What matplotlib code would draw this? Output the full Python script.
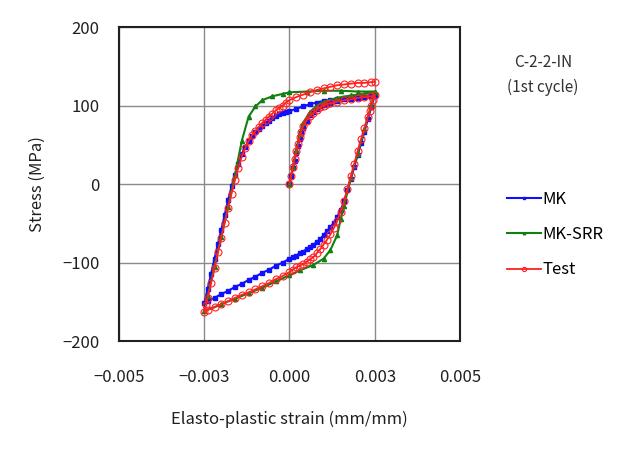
import matplotlib
matplotlib.use("Agg")
from matplotlib import pyplot as plt

plt.rcParams['font.family'] = ['Noto Sans CJK JP', 'DejaVu Sans']

# MK model (blue): initial loading, unloading, reloading
mk_x = [0, 0.00005, 0.0001, 0.00015, 0.0002, 0.00025, 0.0003, 0.00035, 0.0004, 0.0005, 0.0006, 0.0007,
        0.0008, 0.0009, 0.001, 0.0011, 0.0012, 0.0014, 0.0016, 0.0018, 0.002, 0.0022, 0.0024, 0.0025,
        0.0024, 0.0023, 0.0022, 0.0021, 0.002, 0.0019, 0.0018, 0.0017, 0.0016, 0.0015, 0.0014, 0.0013,
        0.0012, 0.0011, 0.001, 0.0009, 0.0008, 0.0007, 0.0006, 0.0005, 0.0004, 0.0003, 0.0002, 0.0001,
        0, -0.0002, -0.0004, -0.0006, -0.0008, -0.001, -0.0012, -0.0014, -0.0016, -0.0018, -0.002,
        -0.0022, -0.0024, -0.0025,
        -0.0024, -0.0023, -0.0022, -0.0021, -0.002, -0.0019, -0.0018, -0.0017, -0.0016, -0.0015,
        -0.0014, -0.0013, -0.0012, -0.0011, -0.001, -0.0009, -0.0008, -0.0007, -0.0006, -0.0005,
        -0.0004, -0.0003, -0.0002, -0.0001, 0, 0.0002, 0.0004, 0.0006, 0.0008, 0.001, 0.0012, 0.0014,
        0.0016, 0.0018, 0.002, 0.0022, 0.0024, 0.0025]
mk_y = [0, 10, 20, 30, 40, 49, 58, 65, 72, 81, 88, 92,
        96, 99, 101, 103, 104, 106, 108, 109, 110, 111, 112, 113,
        98, 83, 67, 52, 37, 22, 7, -8, -22, -33, -42, -49,
        -55, -60, -65, -70, -74, -77, -80, -83, -86, -88, -91, -93,
        -95, -100, -104, -109, -113, -118, -122, -127, -131, -136, -140,
        -145, -149, -152,
        -133, -114, -95, -76, -58, -39, -20, -3, 12, 26,
        38, 47, 55, 61, 66, 70, 74, 78, 81, 84,
        87, 89, 91, 92, 93, 96, 99, 102, 104, 106, 107, 109,
        110, 111, 112, 112, 113, 113]

# MK-SRR model (green)
srr_x = [0, 0.0001, 0.0002, 0.0003, 0.0004, 0.0006, 0.0008, 0.001, 0.0014, 0.0018, 0.0022, 0.0025,
         0.0024, 0.0022, 0.002, 0.0018, 0.0016, 0.0015, 0.0014, 0.0012, 0.001, 0.0007, 0.0003, 0,
         -0.0004, -0.0008, -0.0012, -0.0016, -0.002, -0.0025,
         -0.0024, -0.0022, -0.002, -0.0018, -0.0016, -0.0014, -0.0012, -0.001, -0.0008, -0.0005,
         -0.0002, 0, 0.0005, 0.001, 0.0015, 0.002, 0.0025]
srr_y = [0, 22, 44, 64, 78, 92, 100, 105, 110, 113, 115, 117,
         101, 70, 39, 8, -28, -45, -65, -84, -95, -103, -110, -116,
         -124, -132, -139, -146, -153, -162,
         -143, -105, -67, -29, 12, 55, 86, 99, 107, 112,
         115, 117, 118, 119, 119, 118, 118]

# test result (red)
test_x = [0, 0.00005, 0.0001, 0.00015, 0.0002, 0.00025, 0.0003, 0.00035, 0.0004, 0.0005, 0.0006, 0.0007,
          0.0008, 0.0009, 0.001, 0.0011, 0.0012, 0.0014, 0.0016, 0.0018, 0.002, 0.0022, 0.0024, 0.0025,
          0.00245, 0.0024, 0.00235, 0.0023, 0.0022, 0.0021, 0.002, 0.0019, 0.0018, 0.0017, 0.0016,
          0.0015, 0.0014, 0.0013, 0.0012, 0.0011, 0.001, 0.0009, 0.0008, 0.0007, 0.0006, 0.0005,
          0.0004, 0.0003, 0.0002, 0.0001, 0, -0.0002, -0.0004, -0.0006, -0.0008, -0.001, -0.0012,
          -0.0014, -0.0016, -0.0018, -0.002, -0.0022, -0.0024, -0.0025,
          -0.00245, -0.0024, -0.0023, -0.0022, -0.0021, -0.002, -0.0019, -0.0018, -0.0017, -0.0016,
          -0.0015, -0.0014, -0.0013, -0.0012, -0.0011, -0.001, -0.0009, -0.0008, -0.0007, -0.0006,
          -0.0005, -0.0004, -0.0003, -0.0002, -0.0001, 0, 0.0002, 0.0004, 0.0006, 0.0008, 0.001,
          0.0012, 0.0014, 0.0016, 0.0018, 0.002, 0.0022, 0.0024, 0.0025]
test_y = [0, 11, 22, 32, 42, 51, 60, 67, 74, 81, 87, 91,
          95, 98, 100, 102, 103, 105, 107, 108, 110, 111, 112, 113,
          107, 100, 93, 86, 72, 57, 42, 26, 10, -6, -22,
          -35, -47, -56, -64, -71, -77, -83, -88, -93, -96, -99,
          -102, -104, -106, -109, -112, -117, -121, -126, -130, -134, -138,
          -141, -145, -149, -153, -157, -160, -163,
          -154, -145, -126, -107, -87, -68, -49, -30, -12, 5,
          21, 35, 46, 55, 62, 68, 73, 78, 82, 86,
          90, 94, 97, 100, 104, 107, 111, 114, 117, 120, 122,
          124, 126, 127, 128, 129, 129, 130, 130]

x_ticks = [-0.005, -0.0025, 0, 0.0025, 0.005]
x_tick_labels = ['\u22120.005', '\u22120.003', '0.000', '0.003', '0.005']
y_ticks = [-200, -100, 0, 100, 200]
y_tick_labels = ['\u2212200', '\u2212100', '0', '100', '200']

fig = plt.figure(figsize=(6.3, 4.53), dpi=100)
ax = fig.add_axes([0.189, 0.247, 0.541, 0.693])

ax.plot(mk_x, mk_y, '-', color='#1010ff', lw=1.5, marker='s', ms=3, label='MK', zorder=3)
ax.plot(srr_x, srr_y, '-', color='#108010', lw=1.5, marker='^', ms=3, label='MK-SRR', zorder=4)
ax.plot(test_x, test_y, '-', color='#ff2020', lw=1.3, marker='o', ms=5, mfc='none',
        mew=0.8, label='Test', zorder=5)

ax.set_xlim(-0.005, 0.005)
ax.set_ylim(-200, 200)
ax.set_xticks(x_ticks)
ax.set_xticklabels(x_tick_labels)
ax.set_yticks(y_ticks)
ax.set_yticklabels(y_tick_labels)
ax.tick_params(length=0, labelsize=12, colors='#202020')
ax.tick_params(axis='x', pad=20)
ax.tick_params(axis='y', pad=14)
ax.grid(True, color='#8a8a8a', lw=1)
ax.set_axisbelow(True)
for s in ax.spines.values():
    s.set_color('#202020')
    s.set_linewidth(1.5)

ax.set_xlabel('Elasto-plastic strain (mm/mm)', fontsize=12, labelpad=18, color='#202020')
ax.set_ylabel('Stress (MPa)', fontsize=12, labelpad=12, color='#202020')

fig.text(0.862, 0.862, 'C-2-2-IN', ha='center', va='center', fontsize=11, color='#303030')
fig.text(0.862, 0.808, '(1st cycle)', ha='center', va='center', fontsize=11, color='#303030')

ax.legend(loc='upper left', bbox_to_anchor=(1.12, 0.50), frameon=False, fontsize=12,
          handlelength=2.0, handletextpad=0.1, labelspacing=1.1, borderaxespad=0,
          markerscale=0.6)

fig.savefig('out.png', dpi=100)
